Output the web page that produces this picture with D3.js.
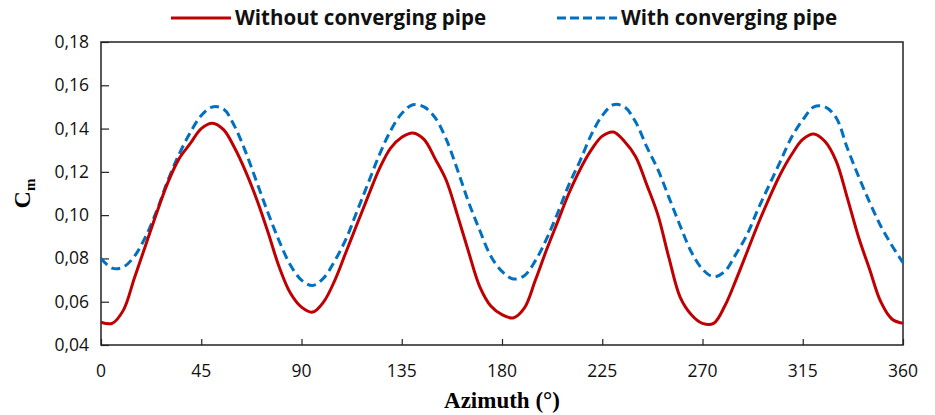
<!DOCTYPE html>
<html>
<head>
<meta charset="utf-8">
<script src="https://cdn.jsdelivr.net/npm/d3@7"></script>
<style>
  body { margin: 0; background: #fff; }
  svg { display: block; }
</style>
</head>
<body>
<svg id="chart" width="935" height="415"></svg>
<script>
// azimuth in degrees, 5 degree steps
const azimuth = d3.range(0, 361, 5);

// Cm without converging pipe (red, solid)
const withoutPipe = [
  0.0505, 0.0500, 0.0560, 0.0710, 0.0860, 0.1010, 0.1150, 0.1260, 0.1330, 0.1400,
  0.1425, 0.1395, 0.1310, 0.1200, 0.1070, 0.0920, 0.0760, 0.0640, 0.0575, 0.0552,
  0.0600, 0.0700, 0.0830, 0.0960, 0.1090, 0.1215, 0.1310, 0.1360, 0.1380, 0.1350,
  0.1260, 0.1160, 0.1000, 0.0830, 0.0670, 0.0580, 0.0540, 0.0525, 0.0570, 0.0700,
  0.0840, 0.0970, 0.1100, 0.1210, 0.1300, 0.1365, 0.1384, 0.1340, 0.1270, 0.1140,
  0.1000, 0.0800, 0.0620, 0.0540, 0.0500, 0.0500, 0.0580, 0.0700, 0.0830, 0.0960,
  0.1080, 0.1190, 0.1280, 0.1350, 0.1375, 0.1340, 0.1250, 0.1080, 0.0900, 0.0750,
  0.0600, 0.0520, 0.0500
];

// Cm with converging pipe (blue, dashed)
const withPipe = [
  0.0800, 0.0755, 0.0760, 0.0810, 0.0900, 0.1020, 0.1160, 0.1280, 0.1380, 0.1460,
  0.1500, 0.1490, 0.1410, 0.1290, 0.1150, 0.1010, 0.0880, 0.0770, 0.0700, 0.0675,
  0.0710, 0.0790, 0.0890, 0.1020, 0.1150, 0.1280, 0.1390, 0.1470, 0.1510, 0.1500,
  0.1450, 0.1350, 0.1210, 0.1060, 0.0930, 0.0810, 0.0740, 0.0705, 0.0720, 0.0790,
  0.0890, 0.1010, 0.1140, 0.1250, 0.1370, 0.1460, 0.1510, 0.1500, 0.1430, 0.1315,
  0.1210, 0.1080, 0.0950, 0.0830, 0.0750, 0.0715, 0.0740, 0.0820, 0.0910, 0.1030,
  0.1140, 0.1250, 0.1360, 0.1440, 0.1500, 0.1500, 0.1450, 0.1310, 0.1180, 0.1060,
  0.0950, 0.0860, 0.0780
];

const xTicks = [0, 45, 90, 135, 180, 225, 270, 315, 360];
const yTicks = [0.04, 0.06, 0.08, 0.10, 0.12, 0.14, 0.16, 0.18];

const seriesNames = ["Without converging pipe", "With converging pipe"];
const seriesColors = ["#c00000", "#0070c0"];

const svg = d3.select("#chart");
const margin = { left: 101, right: 32, top: 42, bottom: 70 };
const width = 935, height = 415;

const x = d3.scaleLinear().domain([0, 360]).range([margin.left, width - margin.right]);
const y = d3.scaleLinear().domain([0.04, 0.18]).range([height - margin.bottom, margin.top]);

const fmt = d => d3.format(".2f")(d).replace(".", ",");

// frame
svg.append("rect")
  .attr("x", x(0)).attr("y", y(0.18))
  .attr("width", x(360) - x(0)).attr("height", y(0.04) - y(0.18))
  .attr("fill", "none").attr("stroke", "#222").attr("stroke-width", 1.5);

// y axis, ticks point inward
const yAxis = svg.append("g")
  .attr("transform", `translate(${x(0)},0)`)
  .call(d3.axisRight(y).tickValues(yTicks).tickSize(8).tickFormat(""));
yAxis.select(".domain").remove();
yAxis.selectAll("line").attr("stroke", "#222").attr("stroke-width", 1.2);

svg.append("g").selectAll("text")
  .data(yTicks)
  .join("text")
  .attr("x", x(0) - 12)
  .attr("y", d => y(d) + 6)
  .attr("text-anchor", "end")
  .attr("font-family", "'Open Sans', sans-serif")
  .attr("font-size", 17.5)
  .attr("fill", "#111")
  .text(fmt);

// x axis, ticks point up
const xAxis = svg.append("g")
  .attr("transform", `translate(0,${y(0.04)})`)
  .call(d3.axisTop(x).tickValues(xTicks).tickSize(6).tickFormat(""));
xAxis.select(".domain").remove();
xAxis.selectAll("line").attr("stroke", "#222").attr("stroke-width", 1.2);

svg.append("g").selectAll("text")
  .data(xTicks)
  .join("text")
  .attr("x", d => x(d))
  .attr("y", y(0.04) + 32)
  .attr("text-anchor", "middle")
  .attr("font-family", "'Open Sans', sans-serif")
  .attr("font-size", 17.5)
  .attr("fill", "#111")
  .text(d => d);

// axis titles
svg.append("text")
  .attr("x", (x(0) + x(360)) / 2)
  .attr("y", 408)
  .attr("text-anchor", "middle")
  .attr("font-family", "'Liberation Serif', 'Times New Roman', serif")
  .attr("font-weight", "bold")
  .attr("font-size", 23)
  .text("Azimuth (°)");

const cm = svg.append("text")
  .attr("transform", `translate(30,${(y(0.04) + y(0.18)) / 2}) rotate(-90)`)
  .attr("text-anchor", "middle")
  .attr("font-family", "'Liberation Serif', 'Times New Roman', serif")
  .attr("font-weight", "bold")
  .attr("font-size", 24);
cm.append("tspan").text("C");
cm.append("tspan").attr("font-size", 15).attr("dy", 5).text("m");

// curves
const line = d3.line()
  .x((d, i) => x(azimuth[i]))
  .y(d => y(d))
  .curve(d3.curveCatmullRom.alpha(0.5));

svg.append("path")
  .datum(withPipe)
  .attr("fill", "none")
  .attr("stroke", seriesColors[1])
  .attr("stroke-width", 3)
  .attr("stroke-dasharray", "9,5")
  .attr("d", line);

svg.append("path")
  .datum(withoutPipe)
  .attr("fill", "none")
  .attr("stroke", seriesColors[0])
  .attr("stroke-width", 3)
  .attr("d", line);

// legend
const legendX = [171, 557];
const legend = svg.append("g").selectAll("g")
  .data(seriesNames)
  .join("g")
  .attr("transform", (d, i) => `translate(${legendX[i]},18)`);

legend.append("line")
  .attr("x1", 0).attr("x2", 60)
  .attr("stroke", (d, i) => seriesColors[i])
  .attr("stroke-width", 3)
  .attr("stroke-dasharray", (d, i) => i === 1 ? "9,4" : null);

legend.append("text")
  .attr("x", 64)
  .attr("y", 7)
  .attr("font-family", "'Open Sans', sans-serif")
  .attr("font-weight", "bold")
  .attr("font-size", 20.5)
  .attr("fill", "#111")
  .text(d => d);
</script>
</body>
</html>
